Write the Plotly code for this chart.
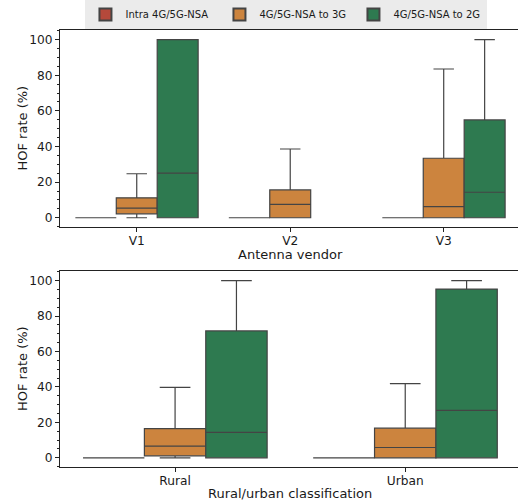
import plotly.graph_objects as go

series = ["Intra 4G/5G-NSA", "4G/5G-NSA to 3G", "4G/5G-NSA to 2G"]
colors = ["#b5493b", "#cc843e", "#2e7a50"]

# Top panel: antenna vendor
vendors = ["V1", "V2", "V3"]
top_x = {
    0: ["V1", "V2", "V3"],
    1: ["V1", "V2", "V3"],
    2: ["V1", "V3"],
}
top_lf = {0: [0, 0, 0], 1: [0, 0, 0], 2: [0, 0]}
top_q1 = {0: [0, 0, 0], 1: [2.2, 0, 0], 2: [0, 0]}
top_med = {0: [0, 0, 0], 1: [5.4, 7.5, 6.2], 2: [25.0, 14.3]}
top_q3 = {0: [0, 0, 0], 1: [11.2, 15.6, 33.4], 2: [100, 54.9]}
top_uf = {0: [0, 0, 0], 1: [24.7, 38.6, 83.5], 2: [100, 100]}

# Bottom panel: rural/urban
areas = ["Rural", "Urban"]
bot_lf = {0: [0, 0], 1: [0, 0], 2: [0, 0]}
bot_q1 = {0: [0, 0], 1: [1.1, 0], 2: [0, 0]}
bot_med = {0: [0, 0], 1: [6.6, 5.8], 2: [14.3, 26.8]}
bot_q3 = {0: [0, 0], 1: [16.5, 16.7], 2: [71.6, 95.2]}
bot_uf = {0: [0, 0], 1: [39.7, 41.9], 2: [100, 100]}

yticks = [0, 20, 40, 60, 80, 100]
y_title = "HOF rate (%)"
x_titles = ["Antenna vendor", "Rural/urban classification"]

fig = go.Figure()
edge = "#444444"
for i, name in enumerate(series):
    fig.add_trace(go.Box(
        x=top_x[i], q1=top_q1[i], median=top_med[i], q3=top_q3[i],
        lowerfence=top_lf[i], upperfence=top_uf[i],
        name=name, legendgroup=name, showlegend=True,
        fillcolor=colors[i], line=dict(color=edge, width=1.2),
        whiskerwidth=0.5, boxpoints=False, offsetgroup=str(i),
        xaxis="x", yaxis="y", hoverinfo="skip",
    ))
    fig.add_trace(go.Box(
        x=areas, q1=bot_q1[i], median=bot_med[i], q3=bot_q3[i],
        lowerfence=bot_lf[i], upperfence=bot_uf[i],
        name=name, legendgroup=name, showlegend=False,
        fillcolor=colors[i], line=dict(color=edge, width=1.2),
        whiskerwidth=0.5, boxpoints=False, offsetgroup=str(i),
        xaxis="x2", yaxis="y2", hoverinfo="skip",
    ))

tick_font = dict(family="DejaVu Sans", size=12.2, color="#1a1a1a")
title_font = dict(family="DejaVu Sans", size=13, color="#1a1a1a")
W, H = 518, 502
L = 60
PW = W - L

def ydom(top_px, bot_px):
    return [(H - bot_px) / H, (H - top_px) / H]

common_x = dict(
    type="category", showline=True, linecolor="#222", linewidth=1,
    mirror=True, ticks="outside", ticklen=4, tickcolor="#222",
    showgrid=False, zeroline=False, automargin=False,
    tickfont=tick_font, ticklabelstandoff=-2,
)
common_y = dict(
    range=[-5.2, 105.4], tickvals=yticks, showline=True, linecolor="#222",
    linewidth=1, ticks="outside", ticklen=4, tickcolor="#222",
    showgrid=False, zeroline=False, automargin=False, tickfont=tick_font,
    minor=dict(dtick=5, ticks="outside", ticklen=2, tickcolor="#222"),
)

annotations = []
for cy in [(30 + 227) / 2, (271 + 467) / 2]:
    annotations.append(dict(
        text=y_title, xref="paper", yref="paper",
        x=(22 - L) / PW, y=(H - cy) / H, textangle=-90,
        showarrow=False, font=title_font, xanchor="center", yanchor="middle",
    ))
for t, cy in zip(x_titles, [254, 493]):
    annotations.append(dict(
        text=t, xref="paper", yref="paper",
        x=(290 - L) / PW, y=(H - cy) / H,
        showarrow=False, font=title_font, xanchor="center", yanchor="middle",
    ))

fig.update_layout(
    width=W, height=H,
    margin=dict(l=L, r=0, t=0, b=0, autoexpand=False),
    paper_bgcolor="white", plot_bgcolor="white",
    boxmode="group", boxgap=0.2, boxgroupgap=0,
    font=tick_font,
    xaxis=dict(common_x, domain=[0, 1], anchor="y",
               categoryorder="array", categoryarray=vendors,
               range=[-0.5, 2.484]),
    yaxis=dict(common_y, domain=ydom(30, 227), anchor="x"),
    xaxis2=dict(common_x, domain=[0, 1], anchor="y2",
                categoryorder="array", categoryarray=areas,
                range=[-0.5, 1.49]),
    yaxis2=dict(common_y, domain=ydom(271, 467), anchor="x2"),
    annotations=annotations,
    legend=dict(orientation="h", xref="container", yref="container",
                x=0.553, xanchor="center", y=1.0, yanchor="top",
                bgcolor="#ebebeb", borderwidth=0,
                font=dict(family="DejaVu Sans", size=10, color="#1a1a1a"),
                entrywidth=89, entrywidthmode="pixels",
                itemsizing="constant", tracegroupgap=0),
)

fig.write_html("out.html", config={"displayModeBar": False},
               post_script="document.body.style.margin='0';document.body.style.overflow='hidden';")
